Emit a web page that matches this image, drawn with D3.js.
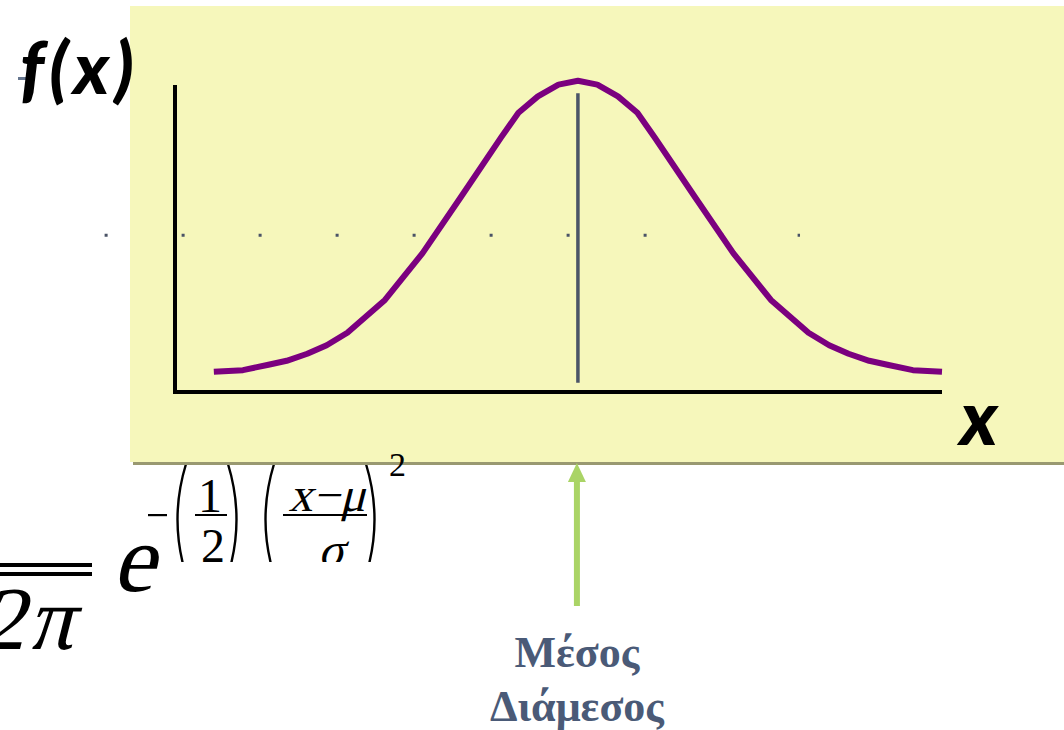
<!DOCTYPE html>
<html>
<head>
<meta charset="utf-8">
<script src="https://cdn.jsdelivr.net/npm/d3@7"></script>
<style>
  html, body { margin: 0; padding: 0; background: #ffffff; }
  svg { display: block; }
</style>
</head>
<body>
<svg id="chart" width="1064" height="730"></svg>
<script>
// Normal density curve, read in units of sigma from the mean
const curveZ = [-3.00, -2.76, -2.55, -2.40, -2.23, -2.07, -1.90, -1.59, -1.28, -0.96, -0.63, -0.49, -0.33, -0.16, 0.00,
                 0.16, 0.33, 0.49, 0.63, 0.96, 1.28, 1.59, 1.90, 2.07, 2.23, 2.40, 2.55, 2.76, 3.00];
const curveF = [0.026, 0.028, 0.035, 0.040, 0.049, 0.060, 0.076, 0.118, 0.178, 0.251, 0.327, 0.358, 0.379, 0.394, 0.399,
                0.394, 0.379, 0.358, 0.327, 0.251, 0.178, 0.118, 0.076, 0.060, 0.049, 0.040, 0.035, 0.028, 0.026];

// Axis extents and reference marks (data units)
const xDomain = [-3.32, 3.0];
const yDomain = [0, 0.4];
const yAxisTop = 0.3935;
const meanLine = { z: 0, f0: 0.012, f1: 0.383 };
const dotLevel = { f: 0.201, z0: -3.90, z1: 1.83 };

// Texts
const yLabel = "f(x)";
const xLabel = "x";
const centreLabels = ["Μέσος", "Διάμεσος"];

const SERIF = "'Liberation Serif', 'Times New Roman', Times, serif";
const SANS = "Lato, 'Open Sans', sans-serif";

const svg = d3.select("#chart");

const x = d3.scaleLinear().domain(xDomain).range([175, 942]);
const y = d3.scaleLinear().domain(yDomain).range([392, 80]);

const serif = sel => sel.attr("font-family", SERIF).attr("fill", "#000");

// slanted serif text (math italic)
function mathText(parent, tx, ty, size, str, anchor) {
  return parent.append("text").call(serif)
    .attr("transform", `translate(${tx},${ty}) skewX(-14)`)
    .attr("font-size", size)
    .attr("text-anchor", anchor || "start")
    .text(str);
}

// ---- formula behind the panel: f(x) = 1/(σ√2π) · e^(−(1/2)((x−μ)/σ)^2)
const formula = svg.append("g").attr("class", "formula");
formula.append("rect").attr("x", 0).attr("y", 563).attr("width", 92).attr("height", 4).attr("fill", "#000");
formula.append("rect").attr("x", 0).attr("y", 572).attr("width", 92).attr("height", 4).attr("fill", "#000");
mathText(formula, -20, 649, 90, "2");
mathText(formula, 28, 649, 90, "π");
mathText(formula, 112, 591, 96, "e");

// exponent, cut off at its lower edge
svg.append("clipPath").attr("id", "expClip")
  .append("rect").attr("x", 0).attr("y", 440).attr("width", 460).attr("height", 122);
const expo = svg.append("g").attr("clip-path", "url(#expClip)");
expo.append("rect").attr("x", 148).attr("y", 514).attr("width", 19).attr("height", 2.2).attr("fill", "#000");
function paren(x0, open) {
  const w = 12, top = 464, bot = 575;
  const d = open
    ? `M${x0 + w},${top} Q${x0 - 5},${(top + bot) / 2} ${x0 + w},${bot}`
    : `M${x0},${top} Q${x0 + w + 5},${(top + bot) / 2} ${x0},${bot}`;
  expo.append("path").attr("d", d).attr("fill", "none").attr("stroke", "#000").attr("stroke-width", 2.4);
}
paren(174, true);
paren(228, false);
paren(262, true);
paren(366, false);
expo.append("text").call(serif).attr("x", 210).attr("y", 512).attr("font-size", 48).attr("text-anchor", "middle").text("1");
expo.append("rect").attr("x", 195).attr("y", 514).attr("width", 32).attr("height", 2).attr("fill", "#000");
expo.append("text").call(serif).attr("x", 213).attr("y", 562).attr("font-size", 48).attr("text-anchor", "middle").text("2");
mathText(expo, 327, 511, 48, "x−μ", "middle");
expo.append("rect").attr("x", 283).attr("y", 514).attr("width", 84).attr("height", 2).attr("fill", "#000");
mathText(expo, 331, 566, 48, "σ", "middle");

// ---- panel
svg.append("rect").attr("x", 133).attr("y", 9).attr("width", 940).attr("height", 456).attr("fill", "#999971");
svg.append("rect").attr("x", 130).attr("y", 6).attr("width", 940).attr("height", 456).attr("fill", "#f6f7bb");

svg.append("text").call(serif).attr("x", 389).attr("y", 476).attr("font-size", 34).text("2");

// dotted reference level
svg.append("line")
  .attr("x1", x(dotLevel.z0)).attr("x2", x(dotLevel.z1))
  .attr("y1", y(dotLevel.f)).attr("y2", y(dotLevel.f))
  .attr("stroke", "#4a5366").attr("stroke-width", 3).attr("stroke-dasharray", "3 74");

// axes
svg.append("path")
  .attr("d", d3.line()([[x(xDomain[0]), y(yAxisTop)], [x(xDomain[0]), y(0)], [x(xDomain[1]), y(0)]]))
  .attr("fill", "none").attr("stroke", "#000").attr("stroke-width", 4);

// mean / median line
svg.append("line")
  .attr("x1", x(meanLine.z)).attr("x2", x(meanLine.z))
  .attr("y1", y(meanLine.f0)).attr("y2", y(meanLine.f1))
  .attr("stroke", "#4b5568").attr("stroke-width", 3.5);

// density curve
const pts = curveZ.map((z, i) => [x(z), y(curveF[i])]);
svg.append("path")
  .attr("d", d3.line()(pts))
  .attr("fill", "none").attr("stroke", "#7b007f").attr("stroke-width", 6)
  .attr("stroke-linejoin", "round");

// axis titles
svg.append("rect").attr("x", 18).attr("y", 77).attr("width", 10).attr("height", 3).attr("fill", "#66768f");
svg.append("text").attr("x", 20).attr("y", 94)
  .attr("font-family", SANS).attr("font-weight", 900).attr("font-style", "italic")
  .attr("font-size", 72).attr("letter-spacing", 5).attr("fill", "#000").text(yLabel);
svg.append("text").attr("x", 960).attr("y", 445)
  .attr("font-family", SANS).attr("font-weight", 900).attr("font-style", "italic")
  .attr("font-size", 76).attr("fill", "#000").text(xLabel);

// arrow pointing to the centre
const ax = x(meanLine.z) - 1;
svg.append("rect").attr("x", ax - 3).attr("y", 480).attr("width", 6).attr("height", 126).attr("fill", "#aad466");
svg.append("path").attr("d", `M${ax},463 L${ax + 9},482 L${ax - 9},482 Z`).attr("fill", "#aad466");

svg.selectAll("text.centre").data(centreLabels).enter().append("text")
  .attr("class", "centre")
  .attr("x", ax).attr("y", (d, i) => 667 + i * 54)
  .attr("text-anchor", "middle")
  .attr("font-family", SERIF).attr("font-weight", "bold")
  .attr("font-size", 44).attr("fill", "#4a5a77")
  .text(d => d);
</script>
</body>
</html>
